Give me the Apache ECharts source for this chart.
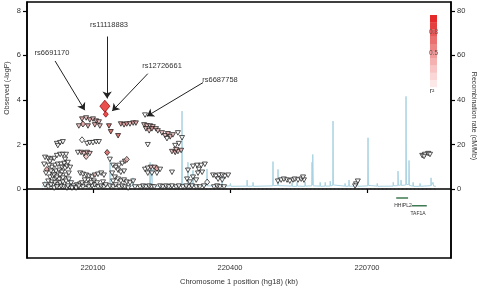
<!DOCTYPE html>
<html>
<head>
<meta charset="utf-8">
<script src="https://cdn.jsdelivr.net/npm/echarts@6/dist/echarts.min.js"></script>
<style>
  html, body { margin: 0; padding: 0; background: #fff; }
  #main { width: 480px; height: 291px; }
</style>
</head>
<body>
<div id="main"></div>
<script>
// SNP positions (kb, hg18), -log10 P, r2 with lead SNP
var snpPos = [
  220126, 220128, 220076, 220085, 220093, 220100, 220107, 220113, 220078, 220089, 220104, 220115, 220069, 220135, 220139, 220155,
  220161, 220168, 220174, 220181, 220188, 220194, 220214, 220212, 220218, 220225, 220231, 220216, 220223, 220229, 220238, 220242,
  220251, 220258, 220264, 220269, 220275, 220262, 220220, 220280, 220286, 220295, 220288, 220273, 220280, 220286, 220293, 220282,
  220021, 220028, 220034, 220023, 220076, 220087, 220093, 220100, 220107, 220113, 219995, 220002, 220008, 220015, 220006, 220021,
  220028, 220034, 220041, 220067, 220074, 220080, 220087, 220093, 220085, 220131, 219999, 220010, 220017, 220023, 220030, 220037,
  220032, 220039, 220043, 220012, 220019, 220026, 220032, 220006, 220012, 220019, 220026, 220010, 220017, 220023, 220030, 220037,
  220043, 220002, 220052, 220058, 220065, 220072, 220078, 220085, 220091, 220098, 220104, 220111, 220118, 220124, 220072, 220078,
  220085, 220091, 220098, 220104, 220111, 220118, 220124, 220089, 220102,
  220137, 220144, 220150, 220157, 220164, 220170, 220174, 220155, 220161, 220168, 220142, 220148, 220155, 220161, 220168, 220174,
  220181, 220188, 220137, 220144, 220150, 220157, 220164, 220203, 220210, 220216, 220223, 220229, 220214, 220220, 220227, 220234,
  220240, 220247, 220220, 220229, 220240, 220273, 220247, 220253, 220260, 220266, 220273, 220282, 220288,
  220308, 220319, 220328, 220337, 220345, 220332, 220330, 220339, 220306, 220312, 220319, 220326, 220350, 220363, 220369, 220376,
  220383, 220389, 220396, 220374, 220383, 220365, 220372, 220378, 220387, 220310, 220317, 220326,
  220505, 220512, 220518, 220525, 220531, 220538, 220542, 220549, 220556, 220562, 220560, 220676, 220680, 220674,
  220821, 220827, 220834, 220838, 220825,
  219997, 220004, 220008, 220015, 220021, 220028, 220034, 220041, 220047, 220002, 220008, 220015, 220021, 220028, 220034, 220041,
  220047, 219995, 220045, 220054, 220063, 220069, 220076, 220082, 220096, 220109, 220122, 220128, 220039, 220045, 219993, 220050,
  220144, 220170, 220177, 220192, 220234, 220297, 220304, 220334, 220343
];
var snpLogP = [
  3.72, 3.36, 3.14, 3.19, 3.10, 3.14, 3.05, 3.01, 2.92, 2.83, 2.88, 2.83, 2.83, 2.83, 2.57, 2.39,
  2.92, 2.88, 2.92, 2.92, 2.96, 2.96, 3.32, 2.88, 2.83, 2.83, 2.79, 2.70, 2.61, 2.70, 2.70, 2.61,
  2.52, 2.39, 2.48, 2.34, 2.43, 2.26, 1.99, 1.95, 2.52, 2.30, 2.04, 1.68, 1.64, 1.68, 1.73, 1.77,
  2.04, 2.08, 2.12, 1.95, 2.21, 2.04, 2.08, 2.08, 2.12, 2.12, 1.42, 1.37, 1.33, 1.37, 1.24, 1.50,
  1.55, 1.55, 1.55, 1.64, 1.64, 1.59, 1.64, 1.59, 1.46, 1.64, 0.88, 0.97, 1.06, 1.11, 1.11, 1.15,
  0.97, 0.93, 1.02, 0.75, 0.80, 0.84, 0.75, 0.53, 0.57, 0.49, 0.44, 0.31, 0.27, 0.18, 0.13, 0.09,
  0.04, 0.09, 0.27, 0.13, 0.18, 0.22, 0.09, 0.18, 0.09, 0.13, 0.18, 0.09, 0.13, 0.09, 0.71, 0.66,
  0.62, 0.57, 0.53, 0.62, 0.66, 0.71, 0.62, 0.40, 0.35,
  1.33, 1.06, 0.97, 1.06, 1.15, 1.24, 1.33, 0.84, 0.75, 0.80, 0.71, 0.53, 0.44, 0.35, 0.40, 0.31,
  0.27, 0.35, 0.13, 0.09, 0.18, 0.09, 0.13, 0.09, 0.13, 0.09, 0.13, 0.09, 0.88, 0.93, 0.97, 0.97,
  0.93, 0.88, 0.71, 0.71, 0.71, 0.75, 0.13, 0.09, 0.13, 0.09, 0.13, 0.09, 0.13,
  0.84, 1.02, 1.06, 1.06, 1.11, 0.88, 0.71, 0.75, 0.44, 0.31, 0.53, 0.40, 0.31, 0.62, 0.57, 0.62,
  0.62, 0.57, 0.62, 0.44, 0.40, 0.09, 0.13, 0.09, 0.09, 0.09, 0.13, 0.09,
  0.35, 0.40, 0.44, 0.40, 0.35, 0.40, 0.44, 0.40, 0.44, 0.40, 0.53, 0.22, 0.35, 0.13,
  1.50, 1.55, 1.59, 1.55, 1.46,
  0.71, 1.06, 0.80, 0.62, 0.53, 0.62, 0.49, 0.62, 0.71, 0.35, 0.18, 0.04, 0.09, 0.27, 0.31, 0.35,
  0.44, 0.18, 0.13, 0.04, 0.04, 0.13, 0.27, 0.40, 0.27, 0.27, 0.31, 0.18, 1.33, 1.19, 1.11, 0.97,
  0.35, 0.09, 0.04, 0.09, 0.09, 0.09, 0.13, 0.09, 0.13
];
var snpR2 = [
  1.0, 0.9, 0.4, 0.35, 0.4, 0.3, 0.45, 0.35, 0.45, 0.4, 0.4, 0.35, 0.3, 0.75, 0.7, 0.7,
  0.4, 0.45, 0.4, 0.35, 0.4, 0.4, 0.1, 0.3, 0.35, 0.3, 0.35, 0.3, 0.35, 0.4, 0.3, 0.3,
  0.35, 0.3, 0.4, 0.3, 0.3, 0.1, 0.05, 0.1, 0.05, 0.1, 0.1, 0.35, 0.4, 0.3, 0.35, 0.2,
  0.05, 0.05, 0.05, 0.1, 0.05, 0.05, 0.05, 0.05, 0.05, 0.05, 0.1, 0.1, 0.1, 0.05, 0.1, 0.05,
  0.05, 0.05, 0.05, 0.05, 0.3, 0.3, 0.35, 0.3, 0.3, 0.6, 0.4, 0.05, 0.05, 0.05, 0.05, 0.05,
  0.05, 0.05, 0.05, 0.05, 0.05, 0.1, 0.05, 0.05, 0.1, 0.05, 0.05, 0.05, 0.05, 0.05, 0.05, 0.05,
  0.05, 0.05, 0.05, 0.05, 0.05, 0.1, 0.05, 0.05, 0.05, 0.05, 0.1, 0.05, 0.05, 0.05, 0.1, 0.05,
  0.05, 0.1, 0.05, 0.3, 0.05, 0.05, 0.05, 0.05, 0.05,
  0.1, 0.05, 0.05, 0.05, 0.1, 0.3, 0.3, 0.05, 0.05, 0.05, 0.05, 0.05, 0.05, 0.05, 0.05, 0.05,
  0.05, 0.05, 0.05, 0.05, 0.05, 0.05, 0.05, 0.05, 0.05, 0.05, 0.05, 0.05, 0.05, 0.05, 0.3, 0.35,
  0.4, 0.05, 0.05, 0.05, 0.05, 0.05, 0.05, 0.05, 0.05, 0.05, 0.05, 0.05, 0.05,
  0.05, 0.05, 0.05, 0.05, 0.05, 0.05, 0.05, 0.05, 0.05, 0.05, 0.05, 0.05, 0.05, 0.05, 0.05, 0.05,
  0.05, 0.05, 0.05, 0.05, 0.05, 0.05, 0.05, 0.05, 0.05, 0.05, 0.05, 0.05,
  0.05, 0.05, 0.05, 0.05, 0.05, 0.05, 0.05, 0.05, 0.05, 0.05, 0.05, 0.05, 0.05, 0.05,
  0.05, 0.05, 0.05, 0.05, 0.05,
  0.05, 0.05, 0.05, 0.05, 0.05, 0.05, 0.05, 0.05, 0.05, 0.05, 0.05, 0.05, 0.05, 0.05, 0.05, 0.05,
  0.05, 0.05, 0.05, 0.05, 0.05, 0.05, 0.05, 0.05, 0.05, 0.05, 0.05, 0.05, 0.05, 0.05, 0.05, 0.05,
  0.05, 0.05, 0.05, 0.05, 0.05, 0.05, 0.05, 0.05, 0.05
];
var diamondIdx = [0, 1, 8, 52, 72, 73, 74, 127, 153, 178];

// recombination rate (kb, cM/Mb)
var recomb = [
  [219988,1.2],[219993,1.5],[219994.5,3.5],[219996,1.3],[220004,1.4],[220005.5,3],[220007,1.2],[220010,4],[220011.5,1.3],
  [220031,1.5],[220032,3.8],[220033,1.4],[220049,1.5],[220050,4.4],[220051,1.2],[220071,1.8],[220072,2.8],[220073,1.3],
  [220093,1.5],[220094,2.5],[220095,1.2],[220136.5,1.6],[220137.3,13],[220138,1.5],[220187,1.4],[220187.6,5],[220188.5,1.3],
  [220224,1.5],[220225,12],[220226,1.5],[220229,1.8],[220229.3,9],[220230,1.3],[220268,1.2],[220269,2.5],[220270,1.2],
  [220294,1.5],[220295,35],[220296,1.8],[220307,1.6],[220308,12],[220309,1.5],[220318,1.3],[220319,8.4],[220320,1.6],
  [220349,1.5],[220349.7,9],[220350.5,1.4],[220382,1.3],[220382.6,6],[220383.5,1.2],[220400,1.4],[220401,2.5],[220402,1.2],
  [220437,1.3],[220437.5,4],[220438.5,1.2],[220450,1.3],[220450.5,3],[220451.5,1.2],[220493.5,1.4],[220494.2,12.3],[220495,1.5],
  [220504.5,1.6],[220505.2,8.8],[220506,1.5],[220535,1.3],[220536,2.8],[220537,1.2],[220546,1.2],[220547,3],[220548,1.3],
  [220564,1.2],[220564.5,3.2],[220565.5,1.3],[220579,1.4],[220579.7,12],[220580.5,1.8],[220581.3,15.5],[220582.5,1.4],
  [220597,1.3],[220597.5,3],[220598.5,1.2],[220608,1.3],[220608.5,3],[220609.5,1.3],[220619,1.3],[220619.5,3.5],[220620.5,1.4],
  [220625,1.6],[220625.6,30.5],[220626.5,1.8],[220651.5,1.3],[220652,2.5],[220653,1.2],[220660,1.3],[220660.7,4],[220661.5,1.2],
  [220678,1.4],[220679,3],[220680,1.2],[220701.5,1.4],[220702.3,23],[220703.2,1.6],[220722,1.3],[220722.5,2.5],[220723.5,1.2],
  [220757,1.3],[220757.5,3],[220758.5,1.4],[220767.5,1.5],[220768,8],[220769,1.6],[220774,1.8],[220774.6,4],[220775.5,1.6],
  [220785,1.8],[220785.5,41.6],[220786.5,2],[220791.5,2],[220792.1,12.8],[220793,1.6],[220800.5,1.3],[220801,3],[220802,1.2],
  [220815.5,1.2],[220816.2,2.5],[220817,1.2],[220840,1.5],[220840.3,5],[220841,1.6],[220844.6,3],[220846,1.3],[220851,1.2]
];

// genes
var geneNames = ['HHIPL2', 'TAF1A'];
var geneStart = [220764, 220798];
var geneEnd = [220790, 220831];
var geneY = [-0.40, -0.75];

// annotated SNPs: label, arrow start [kb, logP], arrow end [kb, logP]
var annNames = ['rs6691170', 'rs11118883', 'rs12726661', 'rs6687758'];
var annFrom = [[220017, 5.75], [220131, 6.85], [220220, 5.18], [220341, 4.78]];
var annTo = [[220082, 3.54], [220131, 4.07], [220142, 3.50], [220218, 3.27]];
var annText = [[52, 53], [109, 25], [162, 66], [220, 80]];

var xTicks = [220100, 220400, 220700];
var yTicks = [0, 2, 4, 6, 8];
var y2Ticks = [0, 20, 40, 60, 80];
var legendColors = ['#fde8e8', '#fbd6d6', '#f8c4c4', '#f5b0b0', '#f19b9b', '#ed8585', '#ea6f6f', '#e75858', '#e54040', '#e42a2a'];

var FONT = 'Liberation Sans, Arial, sans-serif';

function r2Color(r) {
  if (r >= 0.8) return '#e3231f';
  if (r >= 0.6) return '#d25652';
  if (r >= 0.4) return '#dc9292';
  if (r >= 0.2) return '#e8b6b6';
  return '#ffffff';
}

var snpData = [];
snpPos.forEach(function (p, i) {
  var isD = diamondIdx.indexOf(i) >= 0;
  snpData.push({
    value: [p, snpLogP[i], snpR2[i]],
    symbol: isD ? 'diamond' : 'triangle',
    symbolRotate: isD ? 0 : 180,
    symbolSize: i === 0 ? [10, 12] : (isD ? [5, 6] : [5, 4.5]),
    itemStyle: {
      color: r2Color(snpR2[i]),
      borderColor: snpR2[i] >= 0.8 ? '#8a0000' : '#111',
      borderWidth: 0.9
    }
  });
});
// lead SNP on top
snpData.push(snpData.shift());

var arrowLines = annFrom.map(function (f, i) {
  return [{ coord: f }, { coord: annTo[i] }];
});

var geneSeries = geneNames.map(function (g, i) {
  return {
    name: g,
    type: 'line',
    data: [[geneStart[i], geneY[i]], [geneEnd[i], geneY[i]]],
    symbol: 'none',
    lineStyle: { color: '#3f7a52', width: 1.5 },
    silent: true,
    z: 2
  };
});

var graphics = [];
annNames.forEach(function (n, i) {
  graphics.push({
    type: 'text', x: annText[i][0], y: annText[i][1],
    style: { text: n, font: '7.5px ' + FONT, fill: '#333', align: 'center', verticalAlign: 'middle' }
  });
});
legendColors.forEach(function (c, i) {
  graphics.push({
    type: 'rect', shape: { x: 430, y: 87 - (i + 1) * 7.2, width: 7, height: 7.4 },
    style: { fill: c }
  });
});
graphics.push({ type: 'text', x: 433.5, y: 32, style: { text: '0.8', font: '6.5px ' + FONT, fill: '#555', align: 'center', verticalAlign: 'middle' } });
graphics.push({ type: 'text', x: 433.5, y: 53, style: { text: '0.5', font: '6.5px ' + FONT, fill: '#555', align: 'center', verticalAlign: 'middle' } });
graphics.push({ type: 'text', x: 432, y: 91, style: { text: 'r²', font: '7px ' + FONT, fill: '#333', align: 'center', verticalAlign: 'middle' } });
graphics.push({ type: 'text', x: 403, y: 206, style: { text: geneNames[0], font: '5px ' + FONT, fill: '#333', align: 'center', verticalAlign: 'middle' } });
graphics.push({ type: 'text', x: 418, y: 214, style: { text: geneNames[1], font: '5px ' + FONT, fill: '#333', align: 'center', verticalAlign: 'middle' } });
graphics.push({ type: 'text', x: 7, y: 88, rotation: Math.PI / 2, style: { text: 'Observed (-logP)', font: '7px ' + FONT, fill: '#333', align: 'center', verticalAlign: 'middle' } });
graphics.push({ type: 'text', x: 474, y: 116, rotation: -Math.PI / 2, style: { text: 'Recombination rate (cM/Mb)', font: '7px ' + FONT, fill: '#333', align: 'center', verticalAlign: 'middle' } });

function plain(v) { return String(v); }

var myChart = echarts.init(document.getElementById('main'));
var option = {
  animation: false,
  backgroundColor: '#fff',
  textStyle: { fontFamily: FONT },
  grid: {
    left: 27, right: 29, top: 2, bottom: 29,
    show: true, borderColor: '#000', borderWidth: 1.5, backgroundColor: 'transparent'
  },
  xAxis: {
    type: 'value',
    min: 219955.5,
    max: 220884,
    name: 'Chromosome 1 position (hg18) (kb)',
    nameLocation: 'middle',
    nameGap: 20,
    nameTextStyle: { fontSize: 7.5, color: '#333' },
    axisLine: { lineStyle: { color: '#000', width: 1.5 } },
    axisTick: { customValues: xTicks, length: 4, lineStyle: { color: '#000', width: 1.2 } },
    axisLabel: { customValues: xTicks, formatter: plain, fontSize: 7.5, color: '#333', margin: 6 },
    splitLine: { show: false }
  },
  yAxis: [{
    type: 'value',
    min: -3.1,
    max: 8.4,
    axisLine: { show: true, lineStyle: { color: '#000', width: 1.5 } },
    axisTick: { show: true, customValues: yTicks, length: 4, lineStyle: { color: '#000', width: 1.2 } },
    axisLabel: { customValues: yTicks, formatter: plain, fontSize: 7.5, color: '#333', margin: 6 },
    splitLine: { show: false }
  }, {
    type: 'value',
    position: 'right',
    min: -31,
    max: 84,
    axisLine: { show: true, lineStyle: { color: '#000', width: 1.5 } },
    axisTick: { show: true, customValues: y2Ticks, length: 4, lineStyle: { color: '#000', width: 1.2 } },
    axisLabel: { customValues: y2Ticks, formatter: plain, fontSize: 7.5, color: '#333', margin: 6 },
    splitLine: { show: false }
  }],
  graphic: graphics,
  series: [{
    name: 'Recombination rate',
    type: 'line',
    yAxisIndex: 1,
    data: recomb,
    symbol: 'none',
    lineStyle: { color: '#a9d3e2', width: 1 },
    silent: true,
    z: 1
  }, {
    name: 'baseline',
    type: 'line',
    data: [[219988, 0], [220851, 0]],
    symbol: 'none',
    lineStyle: { color: '#333', width: 1.5, type: [1.5, 2.5] },
    silent: true,
    z: 2,
    markLine: {
      silent: true,
      symbol: ['none', 'arrow'],
      symbolSize: 7,
      label: { show: false },
      lineStyle: { color: '#222', width: 1, type: 'solid' },
      data: arrowLines
    }
  }].concat(geneSeries).concat([{
    name: 'SNP',
    type: 'scatter',
    data: snpData,
    z: 3
  }])
};
myChart.setOption(option, true);
window.addEventListener('resize', function () {
  myChart.resize();
});
</script>
</body>
</html>
